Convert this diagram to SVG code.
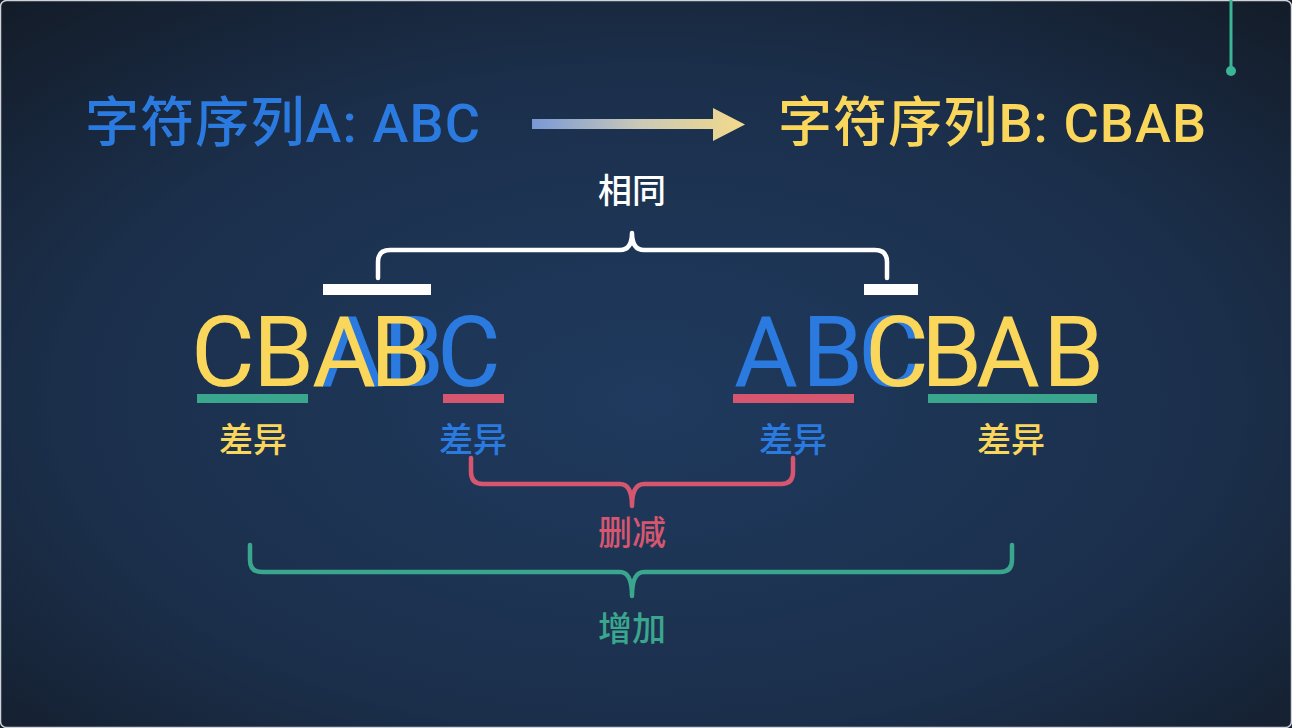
<svg xmlns="http://www.w3.org/2000/svg" width="1292" height="728" viewBox="0 0 1292 728">
<defs>
<radialGradient id="bg" cx="0.5" cy="0.55" r="0.75">
<stop offset="0" stop-color="#1f3a5e"/>
<stop offset="0.6" stop-color="#1b2f4b"/>
<stop offset="1" stop-color="#131b27"/>
</radialGradient>
<linearGradient id="arrowGrad" x1="532" y1="0" x2="745" y2="0" gradientUnits="userSpaceOnUse">
<stop offset="0" stop-color="#7a98d6"/>
<stop offset="0.5" stop-color="#c9c9b8"/>
<stop offset="1" stop-color="#f3da8a"/>
</linearGradient>
<style>
.t{font-family:Roboto,"Noto Sans CJK SC",sans-serif;font-weight:500;}
.big{font-family:Roboto,"Noto Sans CJK SC",sans-serif;font-size:98px;font-weight:400;}
.lbl{font-family:"Noto Sans CJK SC",sans-serif;font-size:34px;font-weight:500;text-anchor:middle;}
.blue{fill:#2a7ae0;}
.yellow{fill:#fad65a;}
.white{fill:#ffffff;}
.pink{fill:#d6566f;}
.teal{fill:#3aa68e;}
.brace{fill:none;stroke-width:4.5;stroke-linecap:round;stroke-linejoin:round;}
</style>
</defs>
<rect x="0" y="0" width="1292" height="728" fill="url(#bg)"/>
<rect x="0.5" y="0.5" width="1291" height="727" rx="6" fill="none" stroke="#cfd3d8" stroke-width="1.5"/>

<g id="corner-line">
<line x1="1231" y1="0" x2="1231" y2="70" stroke="#3ab596" stroke-width="3"/>
<circle cx="1231" cy="71" r="5" fill="#3ab596"/>
</g>

<g id="title-a"><text class="t blue" x="85" y="142" font-size="54" textLength="395">字符序列A: ABC</text></g>
<g id="arrow">
<path d="M532 119 H713 V108 L745 124.5 L713 141 V129 H532 Z" fill="url(#arrowGrad)"/>
</g>
<g id="title-b"><text class="t yellow" x="778" y="142" font-size="54" textLength="428">字符序列B: CBAB</text></g>

<g id="label-same"><text class="lbl white" x="632" y="203">相同</text></g>

<g id="seq-left">
<text class="big blue" x="320 383 437" y="386">ABC</text>
<text class="big yellow" x="191 253 312 370" y="386">CBAB</text>
<rect x="323" y="284" width="108" height="11" fill="#ffffff"/>
<rect x="197" y="394" width="111" height="9" fill="#3aa68e"/>
<rect x="443" y="394" width="61" height="9" fill="#d6566f"/>
</g>

<g id="seq-right">
<text class="big blue" x="734 802 858" y="386">ABC</text>
<text class="big yellow" x="865 921 976 1043" y="386">CBAB</text>
<rect x="864" y="284" width="54" height="11" fill="#ffffff"/>
<rect x="733" y="394" width="121" height="9" fill="#d6566f"/>
<rect x="928" y="394" width="169" height="9" fill="#3aa68e"/>
</g>

<g id="labels-diff">
<text class="lbl yellow" x="253" y="452">差异</text>
<text class="lbl blue" x="473" y="452">差异</text>
<text class="lbl blue" x="793" y="452">差异</text>
<text class="lbl yellow" x="1011" y="452">差异</text>
</g>

<g id="connectors">
<path class="brace" stroke="#ffffff" d="M378 278 V262 Q378 250 390 250 H620 Q632 250 632 233 Q632 250 644 250 H875 Q887 250 887 262 V278"/>
<path class="brace" stroke="#d6566f" d="M471 458 V472 Q471 484 483 484 H620 Q632 484 632 506 Q632 484 644 484 H781 Q793 484 793 472 V458"/>
<path class="brace" stroke="#3aa68e" d="M250 545 V560 Q250 572 262 572 H620 Q632 572 632 596 Q632 572 644 572 H1000 Q1012 572 1012 560 V545"/>
</g>

<g id="label-delete"><text class="lbl pink" x="632" y="545">删减</text></g>
<g id="label-add"><text class="lbl teal" x="632" y="641">增加</text></g>
</svg>
